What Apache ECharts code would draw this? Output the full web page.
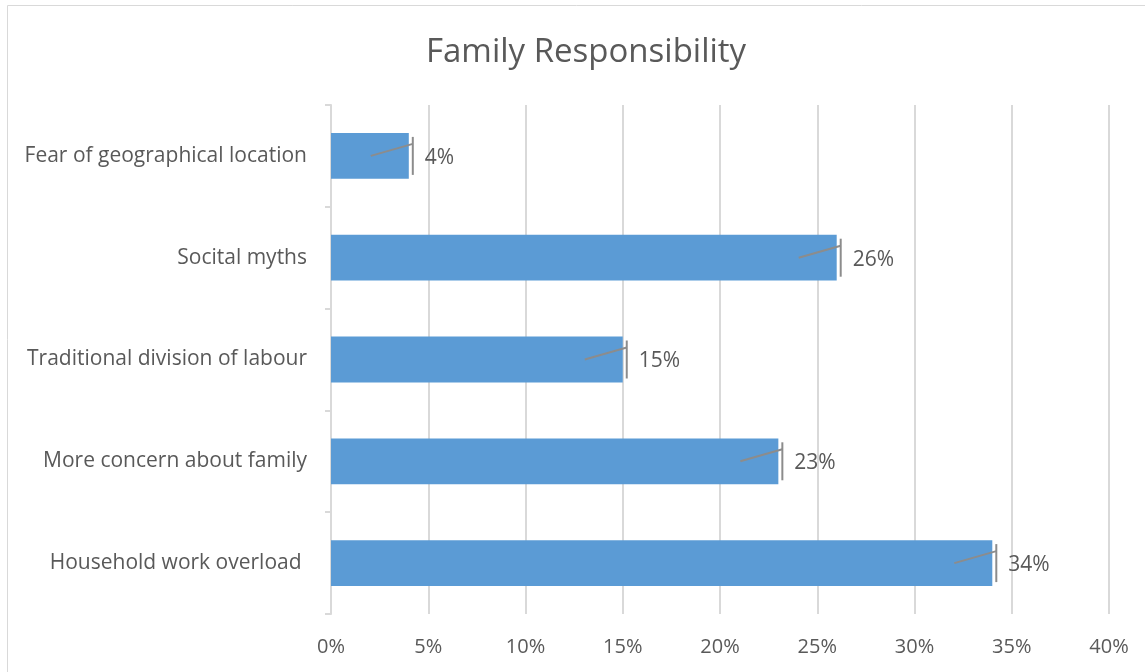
<!DOCTYPE html>
<html>
<head>
<meta charset="utf-8">
<script src="https://cdn.jsdelivr.net/npm/echarts@6/dist/echarts.min.js"></script>
<style>
  html, body { margin: 0; padding: 0; background: #fff; }
  #chart { width: 1145px; height: 672px; }
</style>
</head>
<body>
<div id="chart"></div>
<script>
// categories listed bottom to top, like the y axis
var categories = ['Household work overload ', 'More concern about family', 'Traditional division of labour', 'Socital myths', 'Fear of geographical location'];
var shares = [34, 23, 15, 26, 4];
var xTicks = [0, 5, 10, 15, 20, 25, 30, 35, 40];

var textColor = '#595959';
var gridColor = '#d9d9d9';
var fontName = 'Open Sans, Noto Sans, sans-serif';

var chart = echarts.init(document.getElementById('chart'));

// the little leader lines drawn at the end of every bar
function leader(params, api) {
  var end = api.coord([api.value(0), api.value(1)]);
  var capX = end[0] + 4;
  return {
    type: 'group',
    children: [
      { type: 'line', shape: { x1: capX, y1: end[1] - 19, x2: capX, y2: end[1] + 19 },
        style: { stroke: '#8c8c8c', lineWidth: 2 } },
      { type: 'line', shape: { x1: end[0] - 38, y1: end[1], x2: capX, y2: end[1] - 12 },
        style: { stroke: '#8c8c8c', lineWidth: 2 } }
    ]
  };
}

var option = {
  animation: false,
  title: {
    text: 'Family Responsibility',
    left: 421,
    top: 31,
    textStyle: { color: textColor, fontSize: 33, fontWeight: 'normal', fontFamily: fontName }
  },
  graphic: [{
    type: 'rect',
    shape: { x: 7.5, y: 5.5, width: 1160, height: 700 },
    style: { fill: 'none', stroke: gridColor, lineWidth: 1 },
    silent: true
  }],
  grid: { left: 331, right: 36, top: 105, bottom: 58 },
  xAxis: {
    type: 'value',
    min: xTicks[0],
    max: xTicks[xTicks.length - 1],
    interval: 5,
    axisLine: { show: false },
    axisTick: { show: false },
    splitLine: { lineStyle: { color: gridColor, width: 2 } },
    axisLabel: {
      color: textColor, fontSize: 20, fontFamily: fontName, margin: 23,
      formatter: function (v) { return v + '%'; }
    }
  },
  yAxis: {
    type: 'category',
    data: categories,
    axisLine: { lineStyle: { color: gridColor, width: 2 } },
    axisTick: { show: true, length: 6, lineStyle: { color: gridColor, width: 2 } },
    axisLabel: { color: textColor, fontSize: 21, fontFamily: fontName, margin: 24 }
  },
  series: [{
    type: 'bar',
    data: shares,
    barWidth: '45%',
    itemStyle: { color: '#5b9bd5' },
    label: {
      show: true,
      position: 'right',
      distance: 16,
      color: textColor,
      fontSize: 21,
      fontFamily: fontName,
      offset: [0, 2],
      formatter: function (p) { return p.value + '%'; }
    }
  }, {
    type: 'custom',
    renderItem: leader,
    data: shares.map(function (v, i) { return [v, i]; }),
    encode: { x: 0, y: 1 },
    z: 3
  }]
};

chart.setOption(option);
</script>
</body>
</html>
